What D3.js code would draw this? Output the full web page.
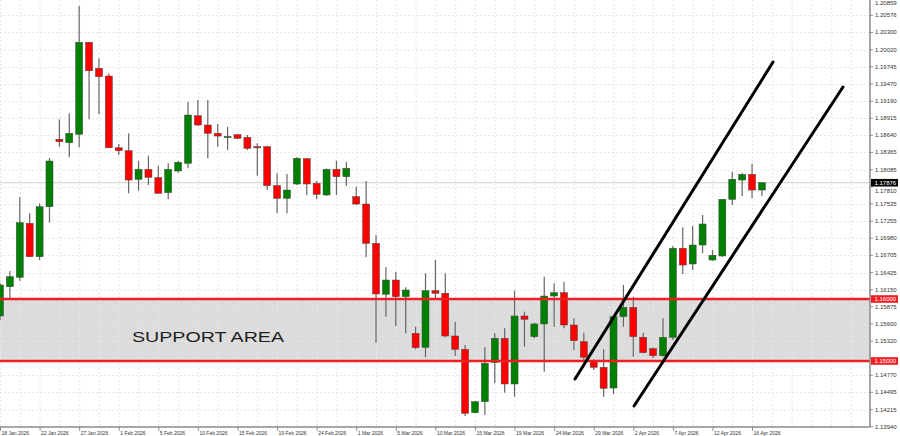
<!DOCTYPE html>
<html><head><meta charset="utf-8">
<script src="https://cdn.jsdelivr.net/npm/d3@7"></script>
<style>html,body{margin:0;padding:0;background:#fff;}svg{display:block;}</style>
</head><body>
<svg id="c" width="900" height="436"></svg>
<script>
const opens = [1.15726,1.16198,1.16350,1.17221,1.16682,1.17489,1.18576,1.18521,1.18657,1.20141,
1.19721,1.19597,1.18440,1.18392,1.17931,1.18092,1.17957,1.17715,1.18065,1.18189,
1.18957,1.18807,1.18673,1.18618,1.18650,1.18608,1.18457,1.18457,1.17828,1.17624,
1.17855,1.18263,1.17866,1.17678,1.18092,1.17973,1.17650,1.17532,1.16898,1.16076,
1.16306,1.16037,1.15447,1.15221,1.16134,1.16092,1.15403,1.15189,1.14166,1.14343,
1.14973,1.15366,1.14629,1.15726,1.15392,1.15597,1.16048,1.16102,1.15581,1.15311,
1.15005,1.14898,1.14564,1.15715,1.15866,1.15382,1.15198,1.15085,1.15382,1.16818,
1.16565,1.16871,1.16629,1.16694,1.17608,1.17919,1.18011,1.17758];
const closes = [1.16226,1.16360,1.17231,1.16682,1.17489,1.18226,1.18537,1.18673,1.20141,1.19682,
1.19586,1.18440,1.18392,1.17919,1.18092,1.17963,1.17705,1.18092,1.18205,1.18968,
1.18807,1.18673,1.18629,1.18623,1.18592,1.18431,1.18454,1.17828,1.17624,1.17758,
1.18270,1.17855,1.17689,1.18092,1.17973,1.18108,1.17532,1.16898,1.16081,1.16306,
1.16037,1.16145,1.15214,1.16134,1.16092,1.15403,1.15189,1.14156,1.14343,1.14963,
1.15366,1.14629,1.15726,1.15673,1.15597,1.16048,1.16102,1.15581,1.15327,1.15060,
1.14898,1.14560,1.15715,1.15866,1.15392,1.15134,1.15085,1.15382,1.16818,1.16548,
1.16871,1.17210,1.16705,1.17608,1.17931,1.18011,1.17758,1.17876];
const highs = [1.16258,1.16452,1.17640,1.17382,1.17544,1.18274,1.18899,1.18995,1.20726,1.20150,
1.19883,1.19640,1.18500,1.18673,1.18226,1.18311,1.18150,1.18189,1.18226,1.19182,
1.19210,1.19210,1.18823,1.18779,1.18661,1.18645,1.18511,1.18473,1.18028,1.18016,
1.18286,1.18274,1.17903,1.18105,1.18231,1.18215,1.17811,1.17903,1.17032,1.16511,
1.16440,1.16189,1.15553,1.16415,1.16629,1.16415,1.15634,1.15258,1.14355,1.15221,
1.15447,1.15527,1.16134,1.15795,1.15618,1.16360,1.16253,1.16279,1.15689,1.15456,
1.15027,1.15189,1.15742,1.16226,1.16037,1.15456,1.15218,1.15689,1.16855,1.17157,
1.17178,1.17355,1.16790,1.17613,1.18053,1.18028,1.18178,1.17887];
const lows = [1.15661,1.16016,1.16295,1.16677,1.16629,1.17231,1.18457,1.18286,1.18447,1.18899,
1.18979,1.18431,1.18323,1.17705,1.17747,1.17839,1.17700,1.17608,1.18037,1.18108,
1.18791,1.18270,1.18457,1.18403,1.18581,1.18403,1.17989,1.17758,1.17382,1.17382,
1.17839,1.17678,1.17608,1.17661,1.17678,1.17823,1.17516,1.16673,1.15295,1.15715,
1.15564,1.15447,1.15189,1.15060,1.15995,1.15382,1.15081,1.14113,1.14156,1.14129,
1.14640,1.14489,1.14424,1.15231,1.15366,1.14827,1.15553,1.15527,1.15177,1.15016,
1.14855,1.14424,1.14468,1.15553,1.15069,1.15124,1.15044,1.15069,1.15339,1.16403,
1.16468,1.16737,1.16618,1.16682,1.17516,1.17661,1.17624,1.17661];

const priceTicks = ["1.20859","1.20576","1.20300","1.20020","1.19745","1.19470","1.19190","1.18915","1.18640","1.18365","1.18085","1.17810","1.17535","1.17255","1.16980","1.16705","1.16425","1.16150","1.15875","1.15600","1.15320","1.15045","1.14770","1.14495","1.14215","1.13940"];
const dateLabels = ["18 Jan 2026","22 Jan 2026","27 Jan 2026","1 Feb 2026","5 Feb 2026","10 Feb 2026","15 Feb 2026","19 Feb 2026","24 Feb 2026","1 Mar 2026","5 Mar 2026","10 Mar 2026","15 Mar 2026","19 Mar 2026","24 Mar 2026","29 Mar 2026","2 Apr 2026","7 Apr 2026","12 Apr 2026","16 Apr 2026"];
const dateLabelStep = 4;
const supportLevels = [1.16000, 1.15000];
const supportLabels = ["1.16000", "1.15000"];
const supportText = "SUPPORT AREA";
const currentPrice = "1.17876";
// channel lines: [barIndex, price] endpoints
const channelUpper = [[58.11, 1.14710], [78.12, 1.19823]];
const channelLower = [[64.07, 1.14274], [85.19, 1.19420]];

const PR = 870, PB = 427;
const svg = d3.select("#c");
const x = d3.scaleLinear().domain([0, 87.92]).range([0, PR]);
const y = d3.scaleLinear().domain([1.13940, 1.20859]).range([426.7, -2.2]);

const defs = svg.append("defs");
defs.append("clipPath").attr("id","plot").append("rect").attr("x",0).attr("y",0).attr("width",PR).attr("height",PB);
const plot = svg.append("g").attr("clip-path","url(#plot)");

// support area shading
plot.append("rect").attr("x",0).attr("width",PR)
  .attr("y", y(supportLevels[0])).attr("height", y(supportLevels[1]) - y(supportLevels[0]))
  .attr("fill","#dcdcdc");

// grid
const n = opens.length;
const vgrid = d3.range(0, 88, 2);
plot.selectAll(".vg").data(vgrid).enter().append("line")
  .attr("x1", d=>x(d)+0.5).attr("x2", d=>x(d)+0.5).attr("y1",0).attr("y2",PB)
  .attr("stroke","#e6e6e6").attr("stroke-width",1).attr("stroke-dasharray","2,2");
plot.selectAll(".hg").data(priceTicks).enter().append("line")
  .attr("x1",0).attr("x2",PR).attr("y1", d=>Math.round(y(+d))+0.5).attr("y2", d=>Math.round(y(+d))+0.5)
  .attr("stroke","#e6e6e6").attr("stroke-width",1).attr("stroke-dasharray","2,2");

// current price line
plot.append("line").attr("x1",0).attr("x2",PR)
  .attr("y1", y(+currentPrice)).attr("y2", y(+currentPrice))
  .attr("stroke","#cfcfcf").attr("stroke-width",1);

// candles
const bars = d3.range(n).map(i => ({i, o:opens[i], h:highs[i], l:lows[i], c:closes[i]}));
const cg = plot.append("g");
cg.selectAll(".wick").data(bars).enter().append("line")
  .attr("x1", d=>x(d.i)).attr("x2", d=>x(d.i))
  .attr("y1", d=>y(d.h)).attr("y2", d=>y(d.l))
  .attr("stroke","#666").attr("stroke-width",1.2);
const bw = 7;
cg.selectAll(".body").data(bars).enter().append("rect")
  .attr("x", d=>x(d.i)-bw/2).attr("width", bw)
  .attr("y", d=>y(Math.max(d.o,d.c)))
  .attr("height", d=>Math.max(1.2, Math.abs(y(d.o)-y(d.c))))
  .attr("fill", d=> d.c >= d.o ? "#008000" : "#ff0000")
  .attr("stroke","#444").attr("stroke-width",0.5);

// support lines
plot.selectAll(".sl").data(supportLevels).enter().append("line")
  .attr("x1",0).attr("x2",PR).attr("y1", d=>y(d)).attr("y2", d=>y(d))
  .attr("stroke","#f01e23").attr("stroke-width",2.6);

// channel lines
const line = d3.line().x(d=>x(d[0])).y(d=>y(d[1]));
[channelUpper, channelLower].forEach(ch => {
  plot.append("path").attr("d", line(ch)).attr("fill","none")
    .attr("stroke","#000").attr("stroke-width",3).attr("stroke-linecap","round");
});

// support text
const sy = (y(supportLevels[0]) + y(supportLevels[1]))/2;
plot.append("text").attr("x",132).attr("y", sy + 12)
  .attr("font-family","'Liberation Sans', Arial, sans-serif").attr("font-size",15)
  .attr("textLength",152).attr("lengthAdjust","spacingAndGlyphs")
  .attr("fill","#1e1e1e").text(supportText);

// axes
svg.append("line").attr("x1",PR).attr("x2",PR).attr("y1",0).attr("y2",PB)
  .attr("stroke","#8a8a8a").attr("stroke-width",1.5);
svg.append("line").attr("x1",0).attr("x2",PR).attr("y1",PB).attr("y2",PB)
  .attr("stroke","#8a8a8a").attr("stroke-width",1.5);

// highlighted boxes on price axis
const boxes = supportLevels.map((v,i)=>({v, label:supportLabels[i], bg:"#f01e23"}))
  .concat([{v:+currentPrice, label:currentPrice, bg:"#000"}]);
const boxY = boxes.map(b => y(b.v));

const pg = svg.append("g");
priceTicks.forEach(t => {
  let py = Math.max(3, y(+t));
  let hidden = false;
  boxY.forEach(by => {
    const d = py - by;
    if (Math.abs(d) < 4) hidden = true;          // fully covered by the box
    else if (Math.abs(d) < 8) py = by + (d > 0 ? 8 : -8); // nudged next to it
  });
  pg.append("line").attr("x1",PR).attr("x2",PR+3).attr("y1",y(+t)).attr("y2",y(+t)).attr("stroke","#777").attr("stroke-width",0.8);
  if (hidden) return;
  pg.append("text").attr("x",PR+5).attr("y",py+2).attr("font-family","'Liberation Sans', Arial, sans-serif")
    .attr("font-size",6).attr("fill","#333").text(t);
});
boxes.forEach(b => {
  const py = y(b.v);
  svg.append("rect").attr("x",PR+1).attr("y",py-3.8).attr("width",27).attr("height",7.6).attr("fill",b.bg);
  svg.append("text").attr("x",PR+4.5).attr("y",py+2).attr("font-family","'Liberation Sans', Arial, sans-serif")
    .attr("font-size",6).attr("fill","#fff").text(b.label);
});

const dg = svg.append("g");
dateLabels.forEach((t,k) => {
  const dx = x(k*dateLabelStep);
  dg.append("line").attr("x1",dx+0.5).attr("x2",dx+0.5).attr("y1",PB).attr("y2",PB+4).attr("stroke","#777").attr("stroke-width",0.8);
  dg.append("text").attr("x",dx+1.5).attr("y",PB+7.5).attr("font-family","'Liberation Sans', Arial, sans-serif")
    .attr("font-size",5).attr("fill","#333").text(t);
});
</script>
</body></html>
